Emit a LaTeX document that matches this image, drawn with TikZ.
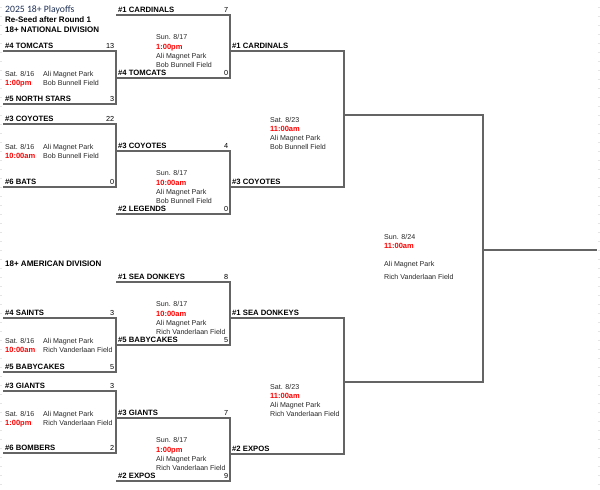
\documentclass[tikz,border=0pt]{standalone}
\usepackage{fontspec}
\setmainfont{Liberation Sans}
\newfontfamily\titlefont{Carlito}
\definecolor{titleblue}{RGB}{31,48,85}
\definecolor{linegray}{RGB}{100,100,100}

\begin{document}
\begin{tikzpicture}[x=1pt,y=-1pt,
        bracket/.style={draw=linegray, line width=1.5pt},
        gridtick/.style={draw=black!10, line width=0.8pt},
        team/.style={anchor=base west, inner sep=0pt, font=\fontsize{7.7}{8}\selectfont\bfseries},
        score/.style={anchor=base east, inner sep=0pt, font=\fontsize{7.3}{8}\selectfont},
        info/.style={anchor=west, inner sep=0pt, text height=5pt, text depth=0pt, text=black!85, font=\fontsize{7.1}{8}\selectfont},
        gametime/.style={info, text=red, font=\fontsize{7.5}{8}\selectfont\bfseries},
        head/.style={anchor=west, inner sep=0pt, text height=5.8pt, text depth=0pt, font=\fontsize{8}{9}\selectfont\bfseries}]
    \useasboundingbox (0,0) rectangle (600,490);

    \foreach \k in {0,...,53}{
        \draw[gridtick] (0,7+9*\k) -- (2,7+9*\k);
        \draw[gridtick] (597.5,7+9*\k) -- (600,7+9*\k);
    }

    \node[head, font=\titlefont\fontsize{9.7}{11}\selectfont, text=titleblue] (title) at (5,9.5) {2025 18+ Playoffs};
    \node[head] (reseed) at (5,20) {Re-Seed after Round 1};
    \node[head] (natl) at (5,29.5) {18+ NATIONAL DIVISION};
    \node[head] (amer) at (5,264) {18+ AMERICAN DIVISION};

    \foreach \m/\xa/\xb/\t/\b/\ta/\sa/\tb/\sb in {
            m1/3/116/51/104/{\#4 TOMCATS}/13/{\#5 NORTH STARS}/3,
            m2/3/116/124/187/{\#3 COYOTES}/22/{\#6 BATS}/0,
            m3/3/116/318/372/{\#4 SAINTS}/3/{\#5 BABYCAKES}/5,
            m4/3/116/391/453/{\#3 GIANTS}/3/{\#6 BOMBERS}/2,
            q1/116/230/15/78/{\#1 CARDINALS}/7/{\#4 TOMCATS}/0,
            q2/116/230/151/214/{\#3 COYOTES}/4/{\#2 LEGENDS}/0,
            q3/116/230/282/345/{\#1 SEA DONKEYS}/8/{\#5 BABYCAKES}/5,
            q4/116/230/418/481/{\#3 GIANTS}/7/{\#2 EXPOS}/9,
            s1/230/344/51/187/{\#1 CARDINALS}//{\#3 COYOTES}/,
            s2/230/344/318/454/{\#1 SEA DONKEYS}//{\#2 EXPOS}/,
            f1/344/483/115/382///{}/}{
        \coordinate (\m-t) at (\xa,\t);
        \coordinate (\m-b) at (\xa,\b);
        \draw[bracket] (\m-t) -| (\xb,\b) -- (\m-b);
        \node[team] (\m-ta) at (\xa+2,\t-2.5) {\ta};
        \node[score] (\m-sa) at (\xb-1.5,\t-2.5) {\sa};
        \node[team] (\m-tb) at (\xa+2,\b-2.5) {\tb};
        \node[score] (\m-sb) at (\xb-1.5,\b-2.5) {\sb};
    }
    \coordinate (champ) at (597,250);
    \draw[bracket] (483,250) -- (champ);

    \node[info] (m1-day) at (5,74) {Sat. 8/16};
    \node[gametime] (m1-time) at (5,83) {1:00pm};
    \node[info] (m1-park) at (43,74) {Ali Magnet Park};
    \node[info] (m1-field) at (43,83) {Bob Bunnell Field};
    \node[info] (m2-day) at (5,147) {Sat. 8/16};
    \node[gametime] (m2-time) at (5,156) {10:00am};
    \node[info] (m2-park) at (43,147) {Ali Magnet Park};
    \node[info] (m2-field) at (43,156) {Bob Bunnell Field};
    \node[info] (m3-day) at (5,341) {Sat. 8/16};
    \node[gametime] (m3-time) at (5,350) {10:00am};
    \node[info] (m3-park) at (43,341) {Ali Magnet Park};
    \node[info] (m3-field) at (43,350) {Rich Vanderlaan Field};
    \node[info] (m4-day) at (5,414) {Sat. 8/16};
    \node[gametime] (m4-time) at (5,423) {1:00pm};
    \node[info] (m4-park) at (43,414) {Ali Magnet Park};
    \node[info] (m4-field) at (43,423) {Rich Vanderlaan Field};

    \node[info] (q1-day) at (156,37) {Sun. 8/17};
    \node[gametime] (q1-time) at (156,46.5) {1:00pm};
    \node[info] (q1-park) at (156,55.5) {Ali Magnet Park};
    \node[info] (q1-field) at (156,64.5) {Bob Bunnell Field};
    \node[info] (q2-day) at (156,173) {Sun. 8/17};
    \node[gametime] (q2-time) at (156,182.5) {10:00am};
    \node[info] (q2-park) at (156,191.5) {Ali Magnet Park};
    \node[info] (q2-field) at (156,200.5) {Bob Bunnell Field};
    \node[info] (q3-day) at (156,304) {Sun. 8/17};
    \node[gametime] (q3-time) at (156,313.5) {10:00am};
    \node[info] (q3-park) at (156,322.5) {Ali Magnet Park};
    \node[info] (q3-field) at (156,331.5) {Rich Vanderlaan Field};
    \node[info] (q4-day) at (156,440) {Sun. 8/17};
    \node[gametime] (q4-time) at (156,449.5) {1:00pm};
    \node[info] (q4-park) at (156,458.5) {Ali Magnet Park};
    \node[info] (q4-field) at (156,467.5) {Rich Vanderlaan Field};

    \node[info] (s1-day) at (270,119.5) {Sat. 8/23};
    \node[gametime] (s1-time) at (270,129) {11:00am};
    \node[info] (s1-park) at (270,138) {Ali Magnet Park};
    \node[info] (s1-field) at (270,147) {Bob Bunnell Field};
    \node[info] (s2-day) at (270,386.5) {Sat. 8/23};
    \node[gametime] (s2-time) at (270,396) {11:00am};
    \node[info] (s2-park) at (270,405) {Ali Magnet Park};
    \node[info] (s2-field) at (270,414) {Rich Vanderlaan Field};

    \node[info] (f1-day) at (384,236.5) {Sun. 8/24};
    \node[gametime] (f1-time) at (384,246) {11:00am};
    \node[info] (f1-park) at (384,264) {Ali Magnet Park};
    \node[info] (f1-field) at (384,277) {Rich Vanderlaan Field};
\end{tikzpicture}
\end{document}
